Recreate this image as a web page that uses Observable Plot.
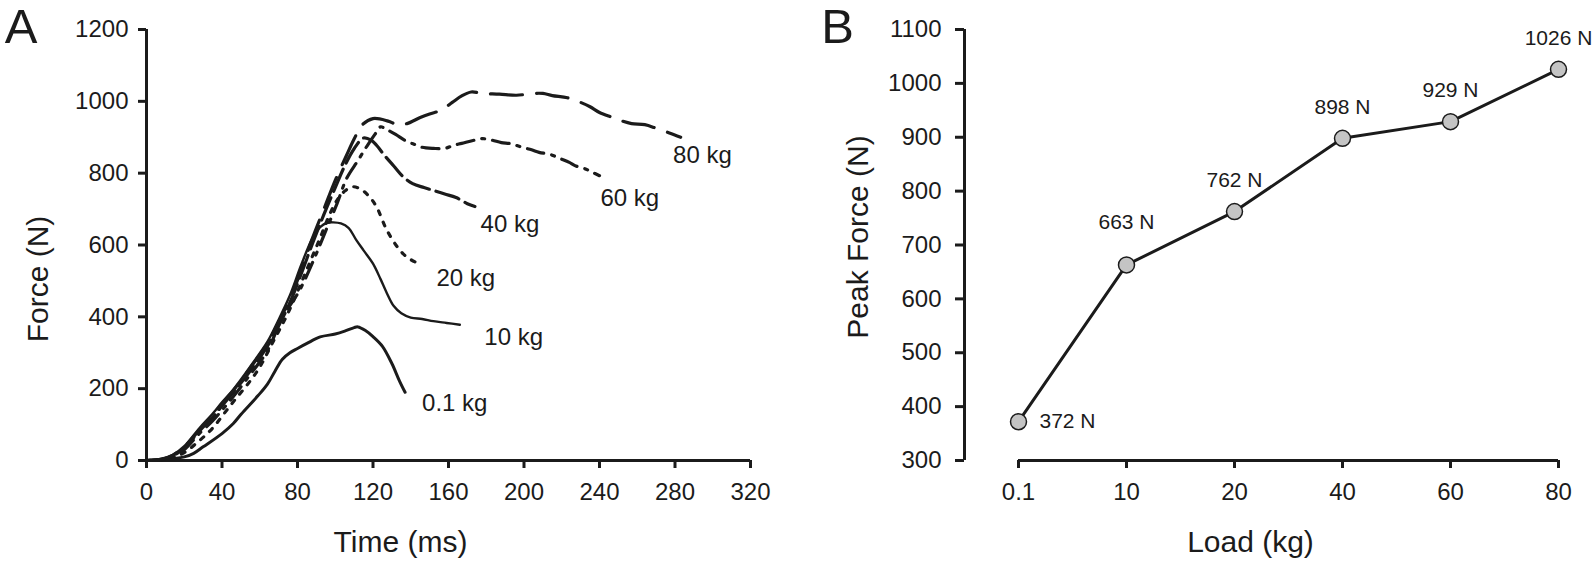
<!DOCTYPE html>
<html><head><meta charset="utf-8">
<script src="https://cdn.jsdelivr.net/npm/d3@7"></script>
<script src="https://cdn.jsdelivr.net/npm/@observablehq/plot@0.6"></script>
<style>
body{margin:0;background:#fff;}
#wrap{position:relative;width:1594px;height:562px;overflow:hidden;background:#fff;}
#a,#b{position:absolute;top:0;}
#a{left:0}
#b{left:800px}
</style></head><body><div id="wrap"><div id="a"></div><div id="b"></div></div>
<script>
// ---------- Panel A data: force-time curves ----------
const loadNames = ["0.1 kg", "10 kg", "20 kg", "40 kg", "60 kg", "80 kg"];

const time01  = [0, 8, 14, 20, 25, 30, 40, 46, 50, 59, 64, 68, 72, 76, 80, 85, 92, 100, 105, 110, 112, 116, 120, 125, 130, 134, 137];
const force01 = [0, 2, 5, 10, 20, 38, 75, 103, 128, 180, 212, 248, 282, 300, 312, 326, 344, 352, 360, 370, 372, 362, 345, 318, 270, 222, 190];

const time10  = [0, 8, 14, 20, 28, 35, 40, 46, 55, 64, 70, 76, 82, 88, 92, 96, 99, 103, 107, 111, 115, 120, 124, 127, 131, 135, 140, 146, 152, 159, 166];
const force10 = [0, 4, 16, 40, 90, 130, 162, 198, 262, 330, 392, 460, 545, 620, 650, 662, 663, 660, 648, 615, 585, 548, 505, 470, 430, 410, 398, 394, 388, 383, 378];

const time20  = [0, 8, 14, 20, 28, 35, 41, 47, 54, 60, 67, 74, 80, 86, 92, 97, 101, 105, 109, 113, 118, 122, 127, 133, 138, 145];
const force20 = [0, 2, 8, 22, 55, 90, 130, 170, 215, 260, 330, 400, 470, 545, 620, 685, 725, 750, 762, 757, 735, 705, 645, 594, 566, 546];

const time40  = [0, 8, 14, 20, 28, 35, 40, 46, 55, 64, 70, 76, 82, 88, 94, 100, 105, 110, 115, 119, 122, 126, 131, 136, 141, 147, 152, 158, 164, 170, 174];
const force40 = [0, 3, 13, 35, 82, 120, 152, 190, 250, 318, 375, 440, 520, 605, 685, 760, 820, 868, 898, 892, 877, 850, 820, 790, 771, 760, 752, 742, 732, 715, 707];

const time60  = [0, 8, 14, 20, 28, 35, 40, 46, 55, 64, 72, 81, 90, 95, 101, 106, 112, 117, 121, 124, 127, 132, 137, 142, 146, 152, 158, 163, 167, 173, 178, 183, 188, 193, 199, 204, 208, 214, 219, 224, 227, 232, 236, 240];
const force60 = [0, 3, 12, 30, 75, 110, 140, 178, 240, 305, 398, 473, 576, 640, 716, 785, 835, 877, 908, 929, 922, 908, 891, 880, 872, 869, 869, 878, 883, 891, 896, 892, 885, 882, 872, 865, 858, 852, 841, 830, 821, 813, 803, 793];

const time80  = [0, 8, 14, 20, 28, 35, 40, 46, 55, 64, 70, 76, 82, 88, 94, 100, 106, 110, 114, 120, 128, 133, 138, 145, 150, 156, 162, 167, 172, 178, 187, 196, 205, 210, 215, 223, 230, 235, 240, 247, 252, 257, 264, 270, 277, 283];
const force80 = [0, 4, 15, 38, 85, 125, 158, 195, 258, 325, 385, 450, 530, 620, 700, 780, 850, 895, 933, 952, 945, 935, 938, 955, 965, 975, 997, 1015, 1026, 1022, 1020, 1017, 1022, 1022, 1016, 1010, 997, 985, 969, 955, 945, 938, 935, 925, 912, 900];

// label anchors for the curves (data units: ms, N)
const labelTime  = [146, 179, 153.6, 177, 240.5, 279];
const labelForce = [159, 343, 507, 657, 730, 850];

const xTicksA = [0, 40, 80, 120, 160, 200, 240, 280, 320];
const yTicksA = [0, 200, 400, 600, 800, 1000, 1200];

// ---------- Panel B data: peak force by load ----------
const loadLabels = ["0.1", "10", "20", "40", "60", "80"];
const peakForce  = [372, 663, 762, 898, 929, 1026];
const peakText   = peakForce.map(v => v + " N");
const yTicksB = [300, 400, 500, 600, 700, 800, 900, 1000, 1100];

// ---------- styling ----------
const FONT = '"Liberation Sans", Arial, Helvetica, sans-serif';
const ink = "#1b1b1b";
const plain = d => String(d);
const seriesStyle = [
  {dash: null,          width: 3.0},
  {dash: null,          width: 2.4},
  {dash: "4,8",         width: 3.2},
  {dash: "24,7",        width: 3.2},
  {dash: "17,8,3,8",    width: 3.2},
  {dash: "32,14",       width: 3.2}
];
const seriesData = [
  [time01, force01], [time10, force10], [time20, force20],
  [time40, force40], [time60, force60], [time80, force80]
];

const lineMarks = seriesData.map(([t, f], i) => {
  const rows = t.map((x, j) => ({t: x, f: f[j]}));
  const opts = {x: "t", y: "f", stroke: ink, strokeWidth: seriesStyle[i].width, curve: "catmull-rom", strokeLinejoin: "round"};
  if (seriesStyle[i].dash) opts.strokeDasharray = seriesStyle[i].dash;
  return Plot.line(rows, opts);
});

const plotA = Plot.plot({
  width: 800, height: 562,
  marginLeft: 146, marginRight: 50, marginTop: 29, marginBottom: 102,
  x: {domain: [0, 320]},
  y: {domain: [0, 1200]},
  style: {fontFamily: FONT, fontSize: "24px", color: ink, background: "transparent", overflow: "visible"},
  marks: [
    Plot.axisY({ticks: yTicksA, tickFormat: plain, tickSize: 8, tickPadding: 10, strokeWidth: 3, label: null, fontSize: 24}),
    Plot.axisX({ticks: xTicksA, tickFormat: plain, tickSize: 8, tickPadding: 14, strokeWidth: 3, label: null, fontSize: 24}),
    Plot.ruleX([0], {stroke: ink, strokeWidth: 3}),
    Plot.ruleY([0], {stroke: ink, strokeWidth: 3}),
    ...lineMarks,
    Plot.text(loadNames, {x: (d, i) => labelTime[i], y: (d, i) => labelForce[i], text: d => d, textAnchor: "start", fontSize: 24, fill: ink}),
    Plot.text(["Force (N)"], {frameAnchor: "left", dx: -108, dy: 34, rotate: -90, textAnchor: "middle", lineAnchor: "middle", fontSize: 30, fill: ink}),
    Plot.text(["Time (ms)"], {frameAnchor: "bottom", dx: -48, dy: 82, textAnchor: "middle", lineAnchor: "middle", fontSize: 30, fill: ink}),
    Plot.text(["A"], {frameAnchor: "top-left", dx: -125.5, dy: -2, textAnchor: "middle", lineAnchor: "middle", fontSize: 49, fill: ink})
  ]
});
document.getElementById("a").appendChild(plotA);

const idx = peakForce.map((v, i) => i);
const plotB = Plot.plot({
  width: 794, height: 562,
  marginLeft: 164, marginRight: 36, marginTop: 29, marginBottom: 102,
  x: {domain: [-0.5, loadLabels.length - 1]},
  y: {domain: [300, 1100]},
  style: {fontFamily: FONT, fontSize: "24px", color: ink, background: "transparent", overflow: "visible"},
  marks: [
    Plot.axisY({ticks: yTicksB, tickFormat: plain, tickSize: 9, tickPadding: 14, strokeWidth: 3, label: null, fontSize: 24}),
    Plot.axisX({ticks: idx, tickFormat: i => loadLabels[i], tickSize: 8, tickPadding: 14, strokeWidth: 3, label: null, fontSize: 24}),
    Plot.ruleX([-0.5], {stroke: ink, strokeWidth: 3}),
    Plot.ruleY([300], {x1: 0, x2: loadLabels.length - 1, stroke: ink, strokeWidth: 3}),
    Plot.line(idx, {x: i => i, y: i => peakForce[i], stroke: ink, strokeWidth: 3}),
    Plot.dot(idx, {x: i => i, y: i => peakForce[i], r: 8, fill: "#c4c4c4", stroke: ink, strokeWidth: 1.5}),
    Plot.text(idx.slice(0, 1), {x: i => i, y: i => peakForce[i], text: i => peakText[i], textAnchor: "start", dx: 21, fontSize: 21, fill: ink}),
    Plot.text(idx.slice(1, 2), {x: i => i, y: i => peakForce[i], text: i => peakText[i], dy: -43, fontSize: 21, fill: ink}),
    Plot.text(idx.slice(2), {x: i => i, y: i => peakForce[i], text: i => peakText[i], dy: -31, fontSize: 21, fill: ink}),
    Plot.text(["Peak Force (N)"], {frameAnchor: "left", dx: -106, dy: -8, rotate: -90, textAnchor: "middle", lineAnchor: "middle", fontSize: 30, fill: ink}),
    Plot.text(["Load (kg)"], {frameAnchor: "bottom", dx: -11, dy: 82, textAnchor: "middle", lineAnchor: "middle", fontSize: 30, fill: ink}),
    Plot.text(["B"], {frameAnchor: "top-left", dx: -127, dy: -2, textAnchor: "middle", lineAnchor: "middle", fontSize: 49, fill: ink})
  ]
});
document.getElementById("b").appendChild(plotB);
</script>
</body></html>
